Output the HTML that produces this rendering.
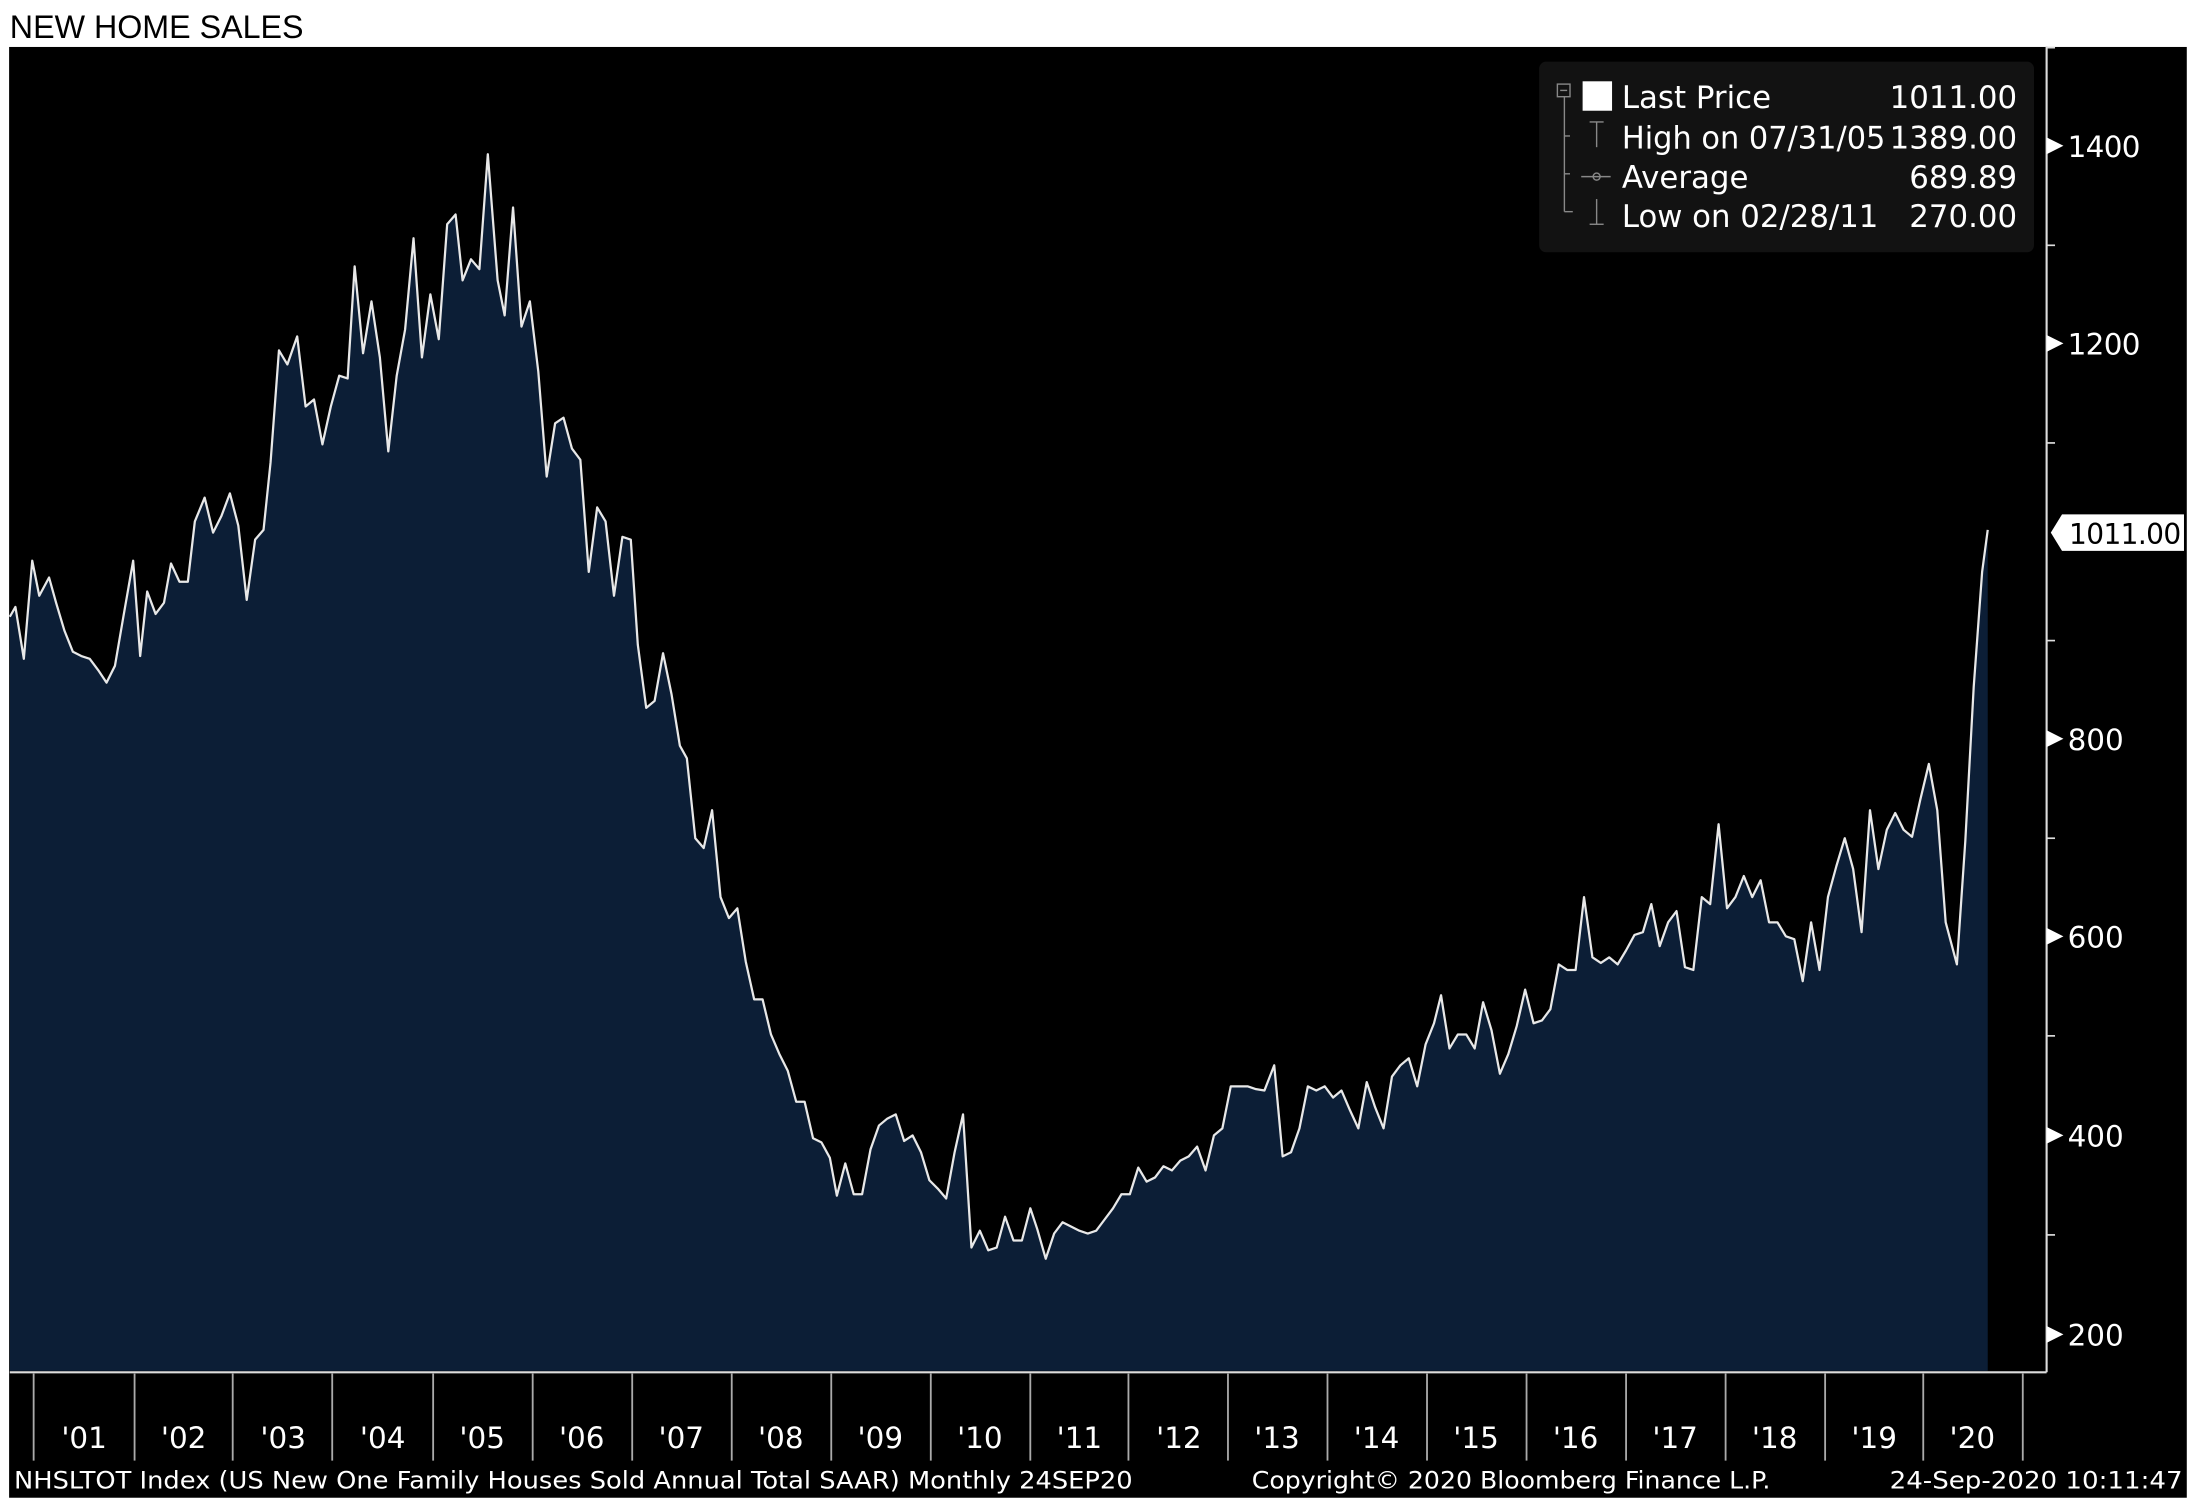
<!DOCTYPE html>
<html><head><meta charset="utf-8"><style>
html,body{margin:0;padding:0;background:#fff;width:2198px;height:1506px;overflow:hidden}
svg{display:block}
</style></head><body>
<svg width="2198" height="1506" viewBox="0 0 1568 1074.4" preserveAspectRatio="none" xmlns="http://www.w3.org/2000/svg">
<rect x="0" y="0" width="1568" height="1075" fill="#fff"/>
<text x="7" y="27" font-family="Liberation Sans, sans-serif" font-size="23" fill="#000">NEW HOME SALES</text>
<rect x="6.5" y="33.5" width="1553.5" height="1035" fill="#000"/>
<g id="series">
<polygon fill="#0c1e36" points="7,978 7,440 11,433 17,470 23,400 28,425 35,412 40,430 46,450 52,465 58,468 64,470 70,478 76,487 82,475 88,440 95,400 100,468 105,422 111,438 117,430 122,402 128,415 134,415 139,372 146,355 152,380 158,368 164,352 170,375 176,428 182,385 188,378 193,330 199,250 205,260 212,240 218,290 224,285 230,317 236,290 242,268 248,270 253,190 259,252 265,215 271,255 277,322 283,268 289,235 295,170 301,255 307,210 313,242 319,160 325,153 330,200 336,185 342,192 348,110 355,200 360,225 366,148 372,233 378,215 384,265 390,340 396,302 402,298 408,320 414,328 420,408 426,362 432,372 438,425 444,383 450,385 455,460 461,505 467,500 473,466 479,495 485,532 490,541 496,598 502,605 508,578 514,640 520,655 526,648 532,686 538,713 544,713 550,738 556,752 562,764 568,786 574,786 580,812 586,815 592,826 597,853 603,830 609,852 615,852 621,820 627,803 633,798 639,795 645,814 651,810 657,822 663,842 669,848 675,855 681,822 687,795 693,890 699,878 705,892 711,890 717,868 723,885 729,885 735,862 740,877 746,898 752,880 758,872 764,875 770,878 776,880 782,878 788,870 794,862 800,852 806,852 812,833 818,843 824,840 830,832 836,835 842,828 848,825 854,818 860,835 866,810 872,805 878,775 884,775 890,775 896,777 902,778 909,760 915,825 921,822 927,805 933,775 939,778 945,775 951,783 957,778 963,792 969,805 975,772 981,790 987,805 993,768 999,760 1005,755 1011,775 1017,745 1023,730 1028,710 1034,748 1040,738 1046,738 1052,748 1058,715 1064,735 1070,766 1076,752 1082,732 1088,706 1094,730 1100,728 1106,720 1112,688 1118,692 1124,692 1130,640 1136,683 1142,687 1148,683 1154,688 1160,678 1166,667 1172,665 1178,645 1184,675 1190,658 1196,650 1202,690 1208,692 1214,640 1220,645 1226,588 1232,648 1238,640 1244,625 1250,640 1256,628 1262,658 1268,658 1274,668 1280,670 1286,700 1292,658 1298,692 1304,640 1310,618 1316,598 1322,620 1328,665 1334,578 1340,620 1346,592 1352,580 1358,592 1364,597 1370,570 1376,545 1382,578 1388,658 1396,688 1402,600 1408,490 1414,408 1418,378 1418,978"/>
<polyline fill="none" stroke="#e8e8e8" stroke-width="1.6" stroke-linejoin="round" points="7,440 11,433 17,470 23,400 28,425 35,412 40,430 46,450 52,465 58,468 64,470 70,478 76,487 82,475 88,440 95,400 100,468 105,422 111,438 117,430 122,402 128,415 134,415 139,372 146,355 152,380 158,368 164,352 170,375 176,428 182,385 188,378 193,330 199,250 205,260 212,240 218,290 224,285 230,317 236,290 242,268 248,270 253,190 259,252 265,215 271,255 277,322 283,268 289,235 295,170 301,255 307,210 313,242 319,160 325,153 330,200 336,185 342,192 348,110 355,200 360,225 366,148 372,233 378,215 384,265 390,340 396,302 402,298 408,320 414,328 420,408 426,362 432,372 438,425 444,383 450,385 455,460 461,505 467,500 473,466 479,495 485,532 490,541 496,598 502,605 508,578 514,640 520,655 526,648 532,686 538,713 544,713 550,738 556,752 562,764 568,786 574,786 580,812 586,815 592,826 597,853 603,830 609,852 615,852 621,820 627,803 633,798 639,795 645,814 651,810 657,822 663,842 669,848 675,855 681,822 687,795 693,890 699,878 705,892 711,890 717,868 723,885 729,885 735,862 740,877 746,898 752,880 758,872 764,875 770,878 776,880 782,878 788,870 794,862 800,852 806,852 812,833 818,843 824,840 830,832 836,835 842,828 848,825 854,818 860,835 866,810 872,805 878,775 884,775 890,775 896,777 902,778 909,760 915,825 921,822 927,805 933,775 939,778 945,775 951,783 957,778 963,792 969,805 975,772 981,790 987,805 993,768 999,760 1005,755 1011,775 1017,745 1023,730 1028,710 1034,748 1040,738 1046,738 1052,748 1058,715 1064,735 1070,766 1076,752 1082,732 1088,706 1094,730 1100,728 1106,720 1112,688 1118,692 1124,692 1130,640 1136,683 1142,687 1148,683 1154,688 1160,678 1166,667 1172,665 1178,645 1184,675 1190,658 1196,650 1202,690 1208,692 1214,640 1220,645 1226,588 1232,648 1238,640 1244,625 1250,640 1256,628 1262,658 1268,658 1274,668 1280,670 1286,700 1292,658 1298,692 1304,640 1310,618 1316,598 1322,620 1328,665 1334,578 1340,620 1346,592 1352,580 1358,592 1364,597 1370,570 1376,545 1382,578 1388,658 1396,688 1402,600 1408,490 1414,408 1418,378"/>
</g>
<!-- axes -->
<line x1="7" y1="979" x2="1460" y2="979" stroke="#ddd" stroke-width="1.5"/>
<line x1="1460" y1="33" x2="1460" y2="979" stroke="#ddd" stroke-width="1.5"/>
<g stroke="#ddd" stroke-width="1.2">
<line x1="1460" y1="34" x2="1466" y2="34"/><line x1="1460" y1="175" x2="1466" y2="175"/><line x1="1460" y1="316" x2="1466" y2="316"/><line x1="1460" y1="457" x2="1466" y2="457"/><line x1="1460" y1="598" x2="1466" y2="598"/><line x1="1460" y1="739" x2="1466" y2="739"/><line x1="1460" y1="881" x2="1466" y2="881"/>
</g>
<g fill="#fff">
<polygon points="1460,98 1472,104 1460,110"/><polygon points="1460,239 1472,245 1460,251"/><polygon points="1460,521 1472,527 1460,533"/><polygon points="1460,662 1472,668 1460,674"/><polygon points="1460,804 1472,810 1460,816"/><polygon points="1460,946 1472,952 1460,958"/>
</g>
<g font-family="DejaVu Sans, sans-serif" font-size="21" fill="#fff" transform="translate(0,0)">
<text x="1475" y="112" textLength="52">1400</text>
<text x="1475" y="253" textLength="52">1200</text>
<text x="1475" y="535" textLength="40">800</text>
<text x="1475" y="676" textLength="40">600</text>
<text x="1475" y="818" textLength="40">400</text>
<text x="1475" y="960" textLength="40">200</text>
</g>
<polygon points="1463,380 1471,367 1558,367 1558,393 1471,393" fill="#fff"/>
<text x="1476" y="388" font-family="DejaVu Sans, sans-serif" font-size="20" fill="#000" textLength="80">1011.00</text>
<!-- x ticks -->
<g stroke="#aaa" stroke-width="1.3">
<line x1="24" y1="980" x2="24" y2="1042"/><line x1="96" y1="980" x2="96" y2="1042"/><line x1="166" y1="980" x2="166" y2="1042"/><line x1="237" y1="980" x2="237" y2="1042"/><line x1="309" y1="980" x2="309" y2="1042"/><line x1="380" y1="980" x2="380" y2="1042"/><line x1="451" y1="980" x2="451" y2="1042"/><line x1="522" y1="980" x2="522" y2="1042"/><line x1="593" y1="980" x2="593" y2="1042"/><line x1="664" y1="980" x2="664" y2="1042"/><line x1="735" y1="980" x2="735" y2="1042"/><line x1="805" y1="980" x2="805" y2="1042"/><line x1="876" y1="980" x2="876" y2="1042"/><line x1="947" y1="980" x2="947" y2="1042"/><line x1="1018" y1="980" x2="1018" y2="1042"/><line x1="1089" y1="980" x2="1089" y2="1042"/><line x1="1160" y1="980" x2="1160" y2="1042"/><line x1="1231" y1="980" x2="1231" y2="1042"/><line x1="1302" y1="980" x2="1302" y2="1042"/><line x1="1372" y1="980" x2="1372" y2="1042"/><line x1="1443" y1="980" x2="1443" y2="1042"/>
</g>
<g font-family="DejaVu Sans, sans-serif" font-size="21" fill="#fff" text-anchor="middle">
<text x="60" y="1033">'01</text><text x="131" y="1033">'02</text><text x="202" y="1033">'03</text><text x="273" y="1033">'04</text><text x="344" y="1033">'05</text><text x="415" y="1033">'06</text><text x="486" y="1033">'07</text><text x="557" y="1033">'08</text><text x="628" y="1033">'09</text><text x="699" y="1033">'10</text><text x="770" y="1033">'11</text><text x="841" y="1033">'12</text><text x="911" y="1033">'13</text><text x="982" y="1033">'14</text><text x="1053" y="1033">'15</text><text x="1124" y="1033">'16</text><text x="1195" y="1033">'17</text><text x="1266" y="1033">'18</text><text x="1337" y="1033">'19</text><text x="1407" y="1033">'20</text>
</g>
<g font-family="DejaVu Sans, sans-serif" font-size="17" fill="#fff">
<text x="10" y="1062" textLength="798" lengthAdjust="spacingAndGlyphs">NHSLTOT Index (US New One Family Houses Sold Annual Total SAAR)  Monthly 24SEP20</text>
<text x="893" y="1062" textLength="370" lengthAdjust="spacingAndGlyphs">Copyright© 2020 Bloomberg Finance L.P.</text>
<text x="1348" y="1062" textLength="209" lengthAdjust="spacingAndGlyphs">24-Sep-2020 10:11:47</text>
</g>
<!-- legend -->
<rect x="1098" y="44" width="353" height="136" rx="5" fill="#121212"/>
<g stroke="#888" stroke-width="1" fill="none">
<rect x="1111" y="60" width="9" height="9"/><line x1="1113" y1="64.5" x2="1118" y2="64.5"/>
<line x1="1116" y1="69" x2="1116" y2="151"/><line x1="1116" y1="97" x2="1120" y2="97"/><line x1="1116" y1="124" x2="1120" y2="124"/><line x1="1116" y1="151" x2="1122" y2="151"/>
<line x1="1134" y1="87" x2="1144" y2="87"/><line x1="1139" y1="87" x2="1139" y2="105"/>
<line x1="1128" y1="126" x2="1149" y2="126"/><circle cx="1139" cy="126" r="2.5"/>
<line x1="1139" y1="142" x2="1139" y2="160"/><line x1="1134" y1="160" x2="1144" y2="160"/>
</g>
<rect x="1129" y="58" width="21" height="21" fill="#fff"/>
<g font-family="DejaVu Sans, sans-serif" font-size="22" fill="#fff">
<text x="1157" y="77">Last Price</text>
<text x="1157" y="106" textLength="188" lengthAdjust="spacingAndGlyphs">High on 07/31/05</text>
<text x="1157" y="134">Average</text>
<text x="1157" y="162" textLength="183" lengthAdjust="spacingAndGlyphs">Low on 02/28/11</text>
</g>
<g font-family="DejaVu Sans, sans-serif" font-size="22" fill="#fff" text-anchor="end">
<text x="1439" y="77">1011.00</text><text x="1439" y="106">1389.00</text><text x="1439" y="134">689.89</text><text x="1439" y="162">270.00</text>
</g>
</svg>
</body></html>
